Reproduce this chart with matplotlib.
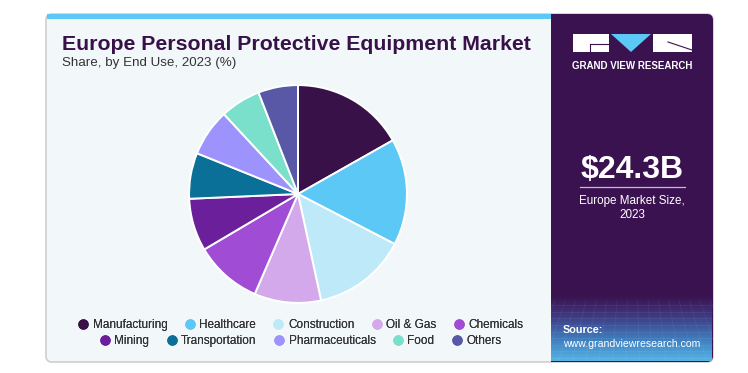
import numpy as np
import matplotlib
matplotlib.use("Agg")
import matplotlib.pyplot as plt
from matplotlib.patches import FancyBboxPatch, Rectangle, Polygon
from matplotlib.lines import Line2D
from matplotlib.colors import LinearSegmentedColormap

plt.rcParams['font.family'] = ['Liberation Sans', 'DejaVu Sans']

# data
segments = ["Manufacturing", "Healthcare", "Construction", "Oil & Gas", "Chemicals",
            "Mining", "Transportation", "Pharmaceuticals", "Food", "Others"]
shares = [16.8, 15.8, 14.0, 9.9, 10.0, 7.8, 6.8, 7.0, 6.0, 5.9]
colors = ["#371148", "#5BC8F5", "#BDE9F9", "#D4A9EC", "#A04CD4",
          "#6C1F9A", "#0A7097", "#9C94FC", "#7ADFCB", "#5858A6"]
title = "Europe Personal Protective Equipment Market"
subtitle = "Share, by End Use, 2023 (%)"
market_size = "$24.3B"
market_label = "Europe Market Size,\n2023"

W, H = 748, 373
fig = plt.figure(figsize=(W / 100, H / 100), dpi=100)
fig.patch.set_facecolor("white")

# background canvas in pixel coords
bg = fig.add_axes([0, 0, 1, 1])
bg.set_xlim(0, W)
bg.set_ylim(H, 0)
bg.axis("off")

card = FancyBboxPatch((46, 14), 667, 348, boxstyle="round,pad=0,rounding_size=6",
                      fc="#F2F7FA", ec="#CFCFCF", lw=1.2)
bg.add_patch(card)
bg.add_patch(Rectangle((47, 14), 504, 5, fc="#5BC8F5", ec="none"))
right = FancyBboxPatch((551, 14), 162, 348, boxstyle="round,pad=0,rounding_size=6",
                       fc="#3B1250", ec="none")
bg.add_patch(right)
bg.add_patch(Rectangle((551, 14), 10, 348, fc="#3B1250", ec="none"))

# gradient footer of right panel
cmap = LinearSegmentedColormap.from_list("foot", ["#3B1250", "#3E3E86", "#3F7DBE", "#55B3E6"])
grad = np.linspace(0, 1, 100).reshape(-1, 1)
bg.imshow(grad, extent=[551, 712, 361, 296], cmap=cmap, aspect="auto", zorder=2)
for yy in np.linspace(305, 358, 9):
    bg.plot([551, 712], [yy, yy], color="white", alpha=0.07, lw=0.6, zorder=3)
for xx in np.linspace(555, 710, 16):
    bg.plot([xx, xx + (xx - 632) * 0.3], [300, 361], color="white", alpha=0.06, lw=0.6, zorder=3)

# logo
bg.add_patch(Rectangle((573, 34), 36, 18, fc="white", ec="none", zorder=4))
bg.add_patch(Polygon([[611, 34], [651, 34], [631, 52]], closed=True, fc="#5BC8F5", ec="none", zorder=4))
bg.add_patch(Rectangle((653, 34), 39, 18, fc="white", ec="none", zorder=4))
bg.plot([590, 609], [44, 44], color="#3B1250", lw=0.8, zorder=5)
bg.plot([590, 590], [44, 52], color="#3B1250", lw=0.8, zorder=5)
bg.plot([668, 692], [42, 50], color="#3B1250", lw=0.8, zorder=5)
bg.text(632, 66, "GRAND VIEW RESEARCH", color="white", fontsize=7.0, fontweight="bold",
        ha="center", va="center", zorder=5)

bg.text(632, 170, market_size, color="white", fontsize=23, fontweight="bold",
        ha="center", va="center", zorder=5)
bg.plot([580, 685], [187, 187], color="#C9B8D6", lw=0.9, zorder=5)
bg.text(632, 208, market_label, color="white", fontsize=8.4, ha="center", va="center",
        linespacing=1.3, zorder=5)
bg.text(563, 330, "Source:", color="white", fontsize=7.8, fontweight="bold",
        ha="left", va="center", zorder=5)
bg.text(563, 344, "www.grandviewresearch.com", color="white", fontsize=7.6,
        ha="left", va="center", zorder=5)

bg.text(62, 44, title, color="#371148", fontsize=15.3, fontweight="bold",
        ha="left", va="center")
bg.text(62, 63, subtitle, color="#333333", fontsize=9.6, ha="left", va="center")

# pie
cx, cy, r = 298, 194, 109
pax = fig.add_axes([(cx - r - 1) / W, (H - cy - r - 1) / H, (2 * r + 2) / W, (2 * r + 2) / H])
pax.pie(shares, colors=colors, startangle=90, counterclock=False, radius=1,
        wedgeprops=dict(edgecolor="white", linewidth=1.4))
pax.set_xlim(-1.01, 1.01)
pax.set_ylim(-1.01, 1.01)
pax.set_aspect("equal")
pax.axis("off")

# legend rows
def handles(idx):
    return [Line2D([], [], marker="o", ls="none", markersize=7.5, markerfacecolor=colors[i],
                   markeredgecolor="none", label=segments[i]) for i in idx]

for idx, yy in [(range(0, 5), 325), (range(5, 10), 341)]:
    leg = fig.legend(handles=handles(idx), loc="center", bbox_to_anchor=(300 / W, 1 - yy / H),
                     ncol=5, frameon=False, fontsize=8.5, handletextpad=0.25, columnspacing=1.35,
                     handlelength=1.1, borderpad=0, labelcolor="#333333")
    fig.add_artist(leg)

fig.savefig("out.png", dpi=100, facecolor="white")
